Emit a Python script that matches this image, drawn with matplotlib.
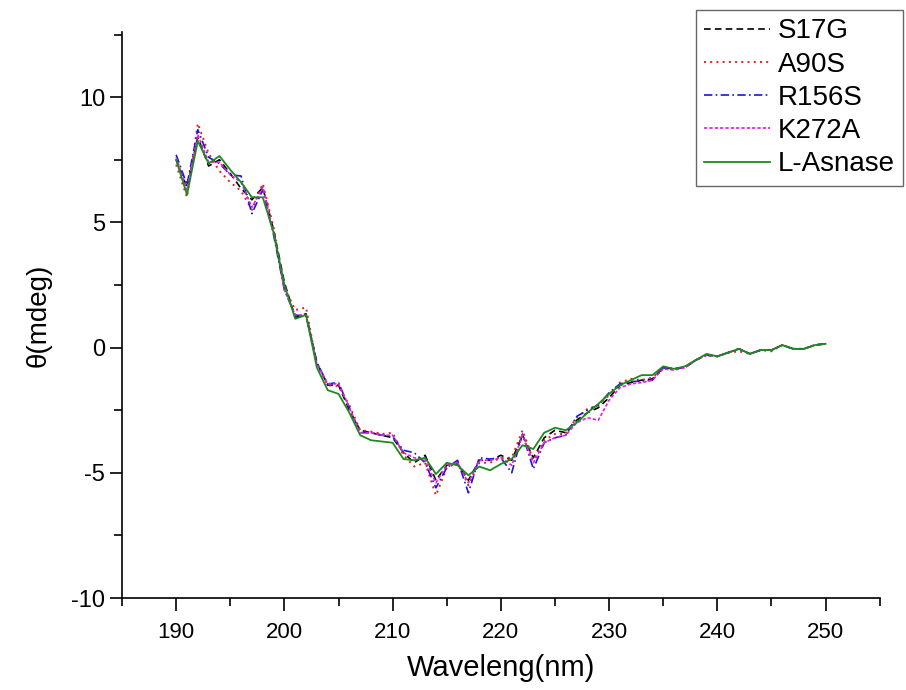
import numpy as np
import matplotlib
matplotlib.use('Agg')
import matplotlib.pyplot as plt
from matplotlib.ticker import MultipleLocator

plt.rcParams['font.family'] = ['Liberation Sans', 'DejaVu Sans']
plt.rcParams['axes.unicode_minus'] = False

#--------------------------------------------------------------------------
# Dados
#--------------------------------------------------------------------------
wavelength = np.arange(190, 251)

s17g = [7.5, 6.4, 8.4, 7.25, 7.5, 6.95, 6.35, 5.9, 6.4, 4.7,
        2.6, 1.2, 1.35, -0.6, -1.5, -1.5, -2.5, -3.3, -3.4, -3.5,
        -3.6, -4.2, -4.6, -4.3, -5.3, -4.7, -4.65, -5.3, -4.5, -4.5,
        -4.3, -4.5, -3.5, -4.4, -3.6, -3.3, -3.4, -2.9, -2.6, -2.4,
        -2.0, -1.5, -1.4, -1.3, -1.25, -0.8, -0.85, -0.8, -0.5, -0.3,
        -0.35, -0.2, -0.05, -0.25, -0.1, -0.1, 0.1, -0.05, -0.05, 0.1,
        0.15]

a90s = [7.3, 6.0, 8.95, 7.75, 7.05, 6.6, 6.25, 5.5, 6.55, 4.8,
        2.4, 1.5, 1.6, -0.7, -1.5, -1.55, -2.3, -3.3, -3.35, -3.45,
        -3.4, -4.3, -4.75, -4.6, -5.9, -4.8, -4.6, -5.5, -4.6, -4.6,
        -4.4, -4.4, -3.3, -4.5, -3.7, -3.45, -3.45, -2.8, -2.45, -2.3,
        -1.9, -1.4, -1.25, -1.3, -1.2, -0.8, -0.85, -0.8, -0.5, -0.3,
        -0.35, -0.2, -0.15, -0.25, -0.1, -0.15, 0.1, -0.05, -0.05, 0.1,
        0.15]

r156s = [7.7, 6.5, 8.7, 7.6, 7.35, 6.9, 6.85, 5.35, 6.3, 4.5,
         2.3, 1.3, 1.25, -0.6, -1.45, -1.4, -2.4, -3.4, -3.4, -3.5,
         -3.55, -4.1, -4.2, -4.6, -5.6, -4.8, -4.5, -5.8, -4.4, -4.45,
         -4.4, -5.0, -3.45, -4.85, -3.8, -3.6, -3.5, -2.75, -2.5, -2.3,
         -1.8, -1.45, -1.35, -1.35, -1.3, -0.8, -0.85, -0.8, -0.5, -0.3,
         -0.35, -0.2, -0.05, -0.25, -0.1, -0.1, 0.1, -0.05, -0.05, 0.1,
         0.15]

k272a = [7.6, 6.3, 8.5, 7.4, 7.4, 6.9, 6.6, 5.6, 6.4, 4.6,
         2.3, 1.3, 1.3, -0.65, -1.45, -1.45, -2.4, -3.4, -3.4, -3.5,
         -3.5, -4.2, -4.4, -4.5, -5.4, -4.7, -4.6, -5.4, -4.5, -4.5,
         -4.4, -4.7, -3.5, -4.6, -3.8, -3.6, -3.5, -3.0, -2.8, -2.9,
         -2.1, -1.6, -1.45, -1.4, -1.3, -0.85, -0.9, -0.8, -0.5, -0.3,
         -0.35, -0.2, -0.05, -0.25, -0.1, -0.1, 0.1, -0.05, -0.05, 0.1,
         0.15]

l_asnase = [7.5, 6.1, 8.25, 7.35, 7.65, 7.1, 6.6, 6.0, 6.0, 4.6,
            2.5, 1.15, 1.3, -0.8, -1.7, -1.85, -2.6, -3.5, -3.7, -3.75,
            -3.8, -4.45, -4.5, -4.4, -5.05, -4.6, -4.7, -5.1, -4.75, -4.9,
            -4.65, -4.45, -3.9, -4.05, -3.4, -3.2, -3.3, -3.0, -2.6, -2.25,
            -1.85, -1.5, -1.3, -1.1, -1.1, -0.75, -0.85, -0.75, -0.5, -0.25,
            -0.35, -0.2, -0.05, -0.25, -0.1, -0.1, 0.1, -0.05, -0.05, 0.1,
            0.15]

#--------------------------------------------------------------------------
# Gráfico
#--------------------------------------------------------------------------
fig = plt.figure(figsize=(9.06, 6.9), dpi=100)
ax = fig.add_axes([0.1347, 0.1333, 0.8363, 0.8203])

ax.plot(wavelength, s17g, color='black', linestyle=(0, (4, 2.5)), lw=1.2, label='S17G')
ax.plot(wavelength, a90s, color='#e02020', linestyle=(0, (1, 2.2)), lw=1.4, label='A90S')
ax.plot(wavelength, r156s, color='#1818d8', linestyle=(0, (5, 2, 1, 2)), lw=1.2, label='R156S')
ax.plot(wavelength, k272a, color='#e020e0', linestyle=(0, (2, 1.2)), lw=1.2, label='K272A')
ax.plot(wavelength, l_asnase, color='#1e8a1e', linestyle='-', lw=1.3, label='L-Asnase')

ax.set_xlim(185, 255)
ax.set_ylim(-10, 12.6)
ax.xaxis.set_major_locator(MultipleLocator(10))
ax.xaxis.set_minor_locator(MultipleLocator(5))
ax.yaxis.set_major_locator(MultipleLocator(5))
ax.yaxis.set_minor_locator(MultipleLocator(2.5))

for s in ['top', 'right']:
    ax.spines[s].set_visible(False)
for s in ['left', 'bottom']:
    ax.spines[s].set_linewidth(1.2)

ax.tick_params(which='major', direction='out', length=9, width=1.2)
ax.tick_params(which='minor', direction='out', length=6, width=1.2)
ax.tick_params(axis='y', labelsize=17, pad=3)
ax.tick_params(axis='x', labelsize=16, pad=8)

ax.set_xlabel('Waveleng(nm)', fontsize=21, labelpad=8)
ax.set_ylabel('θ(mdeg)', fontsize=20, labelpad=14)

leg = fig.legend(loc='upper left', bbox_to_anchor=(0.768, 0.9855),
                 fontsize=20, fancybox=False, framealpha=1,
                 edgecolor='#666666', handlelength=2.37, handletextpad=0.29,
                 labelspacing=0.26, borderpad=0.3, borderaxespad=0)
leg.get_frame().set_linewidth(1.0)

fig.savefig('out.png', dpi=100)
